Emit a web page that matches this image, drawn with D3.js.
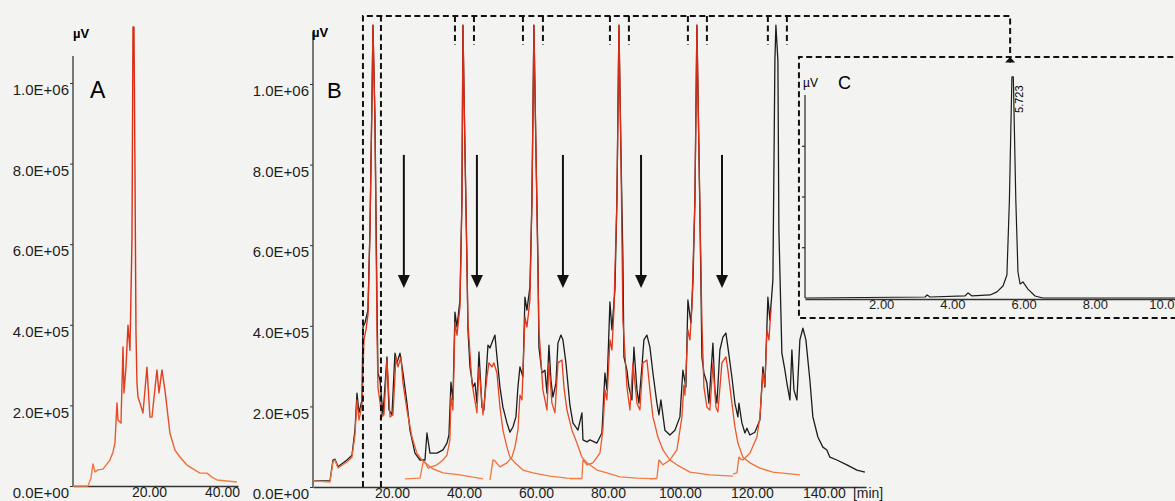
<!DOCTYPE html>
<html>
<head>
<meta charset="utf-8">
<script src="https://cdn.jsdelivr.net/npm/d3@7"></script>
<style>
  body { margin: 0; background: #f3f3f1; }
  svg { display: block; font-family: "Liberation Sans", Arial, sans-serif; }
</style>
</head>
<body>
<div id="canvas"></div>
<script>
// signal values in kµV (x1000 µV), times in minutes
const yTicks = [0, 200, 400, 600, 800, 1000];
const xTicksA = [20, 40];
const xTicksB = [20, 40, 60, 80, 100, 120, 140];
const xTicksC = [2, 4, 6, 8, 10];

// panel A : single injection
const traceA = [[-0.82,0],[3.29,0],[4.11,20],[4.66,55],[5.21,35],[6.03,40],[7.4,42],[9.32,65],[10.14,84],
  [10.68,107],[11.23,206],[11.51,164],[12.33,156],[12.88,345],[13.15,231],[13.7,295],[14.25,399],[14.79,337],
  [15.34,610],[15.62,1139],[15.89,1139],[16.16,791],[16.44,380],[16.71,256],[16.99,221],[17.53,206],[18.36,181],
  [19.45,295],[20.27,171],[20.82,171],[22.19,288],[22.74,231],[23.56,288],[24.38,238],[25.75,131],[27.12,89],
  [28.49,72],[30.41,52],[33.97,32],[35.89,32],[37.26,22],[38.63,15],[44.11,10]];

// panel B : stacked injections, black = whole run
const blackB = [[-1.94,15],[2.78,15],[3.61,67],[4.17,69],[5.0,50],[7.5,67],[8.89,79],[9.72,141],[10.28,233],
  [10.83,184],[11.67,216],[11.94,397],[12.5,407],[13.33,439],[13.89,638],[14.44,960],[14.72,1146],[15.28,911],
  [15.83,464],[16.11,283],[16.67,265],[17.22,208],[17.5,179],[18.61,323],[19.17,191],[20.0,179],[20.83,332],
  [21.39,308],[22.22,332],[23.06,283],[24.17,208],[25.0,141],[26.39,84],[27.78,67],[29.17,67],[29.72,134],
  [30.56,84],[32.5,84],[34.17,92],[35.28,109],[35.83,129],[36.39,260],[36.94,216],[37.5,434],[38.06,397],
  [38.89,464],[39.44,712],[39.72,1146],[40.28,836],[40.83,563],[41.11,390],[41.67,298],[42.5,248],[43.06,258],
  [43.61,208],[44.17,335],[45.0,198],[45.56,191],[46.67,352],[47.22,345],[48.06,365],[48.61,377],[49.17,323],
  [50.0,248],[50.83,198],[51.94,159],[52.78,136],[53.61,149],[54.44,174],[55.0,248],[55.56,298],[56.39,273],
  [56.94,471],[57.5,439],[58.33,496],[58.89,712],[59.44,1146],[60.0,836],[60.56,563],[60.83,347],[61.67,283],
  [62.5,290],[63.06,233],[63.61,352],[64.17,265],[64.72,223],[65.56,258],[66.11,357],[66.94,377],[67.5,365],
  [68.33,308],[69.44,203],[70.28,159],[71.67,141],[72.78,184],[73.06,117],[74.17,112],[75.0,117],[76.94,109],
  [78.33,134],[79.17,283],[79.72,241],[80.56,459],[81.11,390],[81.94,489],[82.5,712],[83.06,1146],[83.61,836],
  [84.17,563],[84.44,323],[85.28,290],[85.83,248],[86.67,216],[87.22,347],[88.06,241],[88.61,208],[89.44,298],
  [90.0,365],[90.83,377],[91.67,347],[92.5,283],[93.61,208],[94.17,179],[94.72,216],[95.83,141],[97.22,129],
  [98.61,141],[100.0,174],[100.83,290],[101.67,248],[102.22,464],[103.06,407],[103.61,506],[104.17,712],
  [104.72,1146],[105.28,836],[105.83,514],[106.11,323],[106.67,283],[107.5,258],[108.06,208],[109.17,357],
  [109.72,241],[110.28,208],[111.11,340],[111.94,372],[112.78,382],[113.33,347],[114.44,273],[115.28,208],
  [116.11,174],[116.39,208],[117.22,159],[118.06,134],[118.61,146],[119.44,129],[120.83,136],[122.22,166],
  [123.06,298],[123.61,248],[124.44,471],[125.0,414],[125.83,514],[126.39,1059],[126.67,1146],[127.22,1059],
  [127.5,638],[128.33,332],[129.17,290],[129.72,258],[130.56,216],[131.11,340],[131.67,241],[132.5,216],
  [133.33,365],[134.17,394],[135.0,365],[136.11,265],[136.94,174],[138.33,124],[139.72,99],[140.83,92],
  [141.67,74],[143.61,67],[146.39,55],[149.17,42],[151.39,37]];

// single injections (red)
const redB1 = [[-1.94,15],[2.78,12],[3.61,62],[4.17,67],[5.0,47],[7.5,62],[8.89,74],[9.72,129],[10.28,216],
  [10.83,166],[11.67,203],[12.22,365],[12.78,390],[13.33,427],[13.89,638],[14.44,960],[14.72,1146],[15.28,911],
  [15.83,390],[16.11,248],[17.22,174],[17.78,179],[18.61,315],[19.44,174],[20.28,179],[21.11,323],[21.67,298],
  [22.5,323],[23.06,258],[24.17,191],[25.56,124],[26.94,84],[28.33,67],[29.17,60],[31.39,45],[34.17,35],
  [38.89,30],[45.28,20]];
const redB2 = [[23.61,20],[27.78,22],[28.61,60],[29.17,62],[30.0,47],[32.5,55],[34.17,67],[35.28,79],[36.11,117],
  [36.39,223],[36.94,191],[37.5,407],[38.06,377],[38.89,447],[39.44,712],[39.72,1146],[40.28,836],[41.11,407],
  [42.22,258],[43.61,184],[44.17,298],[45.28,179],[46.39,273],[46.94,308],[47.78,298],[48.33,308],[49.17,283],
  [50.0,198],[50.83,141],[51.94,99],[52.78,74],[54.17,60],[56.39,42],[59.17,35],[63.89,27],[68.61,22],[72.78,20]];
const redB3 = [[47.22,17],[48.06,67],[48.61,65],[50.0,50],[51.94,60],[53.33,74],[54.17,99],[55.0,141],[55.56,228],
  [56.11,216],[56.94,422],[57.5,397],[58.33,464],[58.89,712],[59.44,1146],[60.0,836],[60.83,390],[61.94,241],
  [63.06,191],[63.61,308],[64.44,208],[65.28,184],[66.11,308],[67.22,315],[67.78,248],[68.61,191],[70.0,141],
  [71.39,109],[72.78,74],[74.17,60],[76.94,42],[79.72,35],[83.33,25],[88.06,22],[93.61,20]];
const redB4 = [[69.44,20],[72.78,22],[73.06,67],[73.61,62],[74.17,55],[75.83,60],[77.78,84],[78.61,141],[79.17,241],
  [79.72,216],[80.56,365],[81.11,340],[81.67,439],[82.5,712],[83.06,1146],[83.61,836],[84.17,414],[85.28,248],
  [86.11,191],[86.94,308],[88.06,208],[88.89,191],[89.72,308],[90.83,315],[91.67,241],[92.5,174],[93.89,124],
  [95.28,92],[97.22,67],[99.17,55],[102.78,37],[108.33,30],[114.72,27]];
const redB5 = [[91.67,20],[93.61,22],[94.17,67],[94.72,62],[95.28,55],[97.22,67],[99.17,92],[100.56,174],
  [101.11,253],[101.39,228],[102.22,390],[102.78,365],[103.33,447],[104.17,712],[104.72,1146],[105.28,836],
  [106.11,407],[106.67,248],[107.5,198],[108.33,191],[109.17,308],[110.0,198],[110.56,186],[111.67,308],
  [112.78,323],[113.33,290],[114.44,208],[115.28,149],[116.11,109],[117.5,74],[119.44,60],[122.22,47],
  [125.83,37],[133.33,30]];
const redB6 = [[114.72,32],[115.83,35],[116.39,74],[116.94,69],[117.5,67],[119.44,84],[121.39,124],[122.22,174],
  [123.06,283],[123.61,253],[124.17,390],[124.72,365],[125.28,439]];

// panel C : collected fraction re-injected
const traceC = [[-0.14,0],[3.23,5],[3.29,15],[3.37,5],[4.35,10],[4.44,25],[4.55,10],[5.06,15],[5.25,30],
  [5.42,59],[5.53,113],[5.6,483],[5.67,1089],[5.71,1089],[5.78,483],[5.84,128],[5.9,69],[5.98,79],[6.12,44],
  [6.32,10],[6.54,0],[10.25,0]];
const peakC = 5.723;

// annotations (panel B times)
const arrowTimes = [23.3, 43.6, 67.5, 89.2, 111.7];
const boxTimes = [11.94, 16.94];
const bracketTimes = [[37.5, 42.78], [56.39, 61.94], [80.56, 85.83], [102.22, 107.5], [124.44, 129.72]];

const W = 1175, H = 501;
const svg = d3.select("#canvas").append("svg").attr("width", W).attr("height", H);
svg.append("rect").attr("width", W).attr("height", H).attr("fill", "#f3f3f1");

const grad = svg.append("defs").append("linearGradient").attr("id", "redgrad")
  .attr("gradientUnits", "userSpaceOnUse").attr("x1", 0).attr("x2", 0).attr("y1", 487).attr("y2", 280);
grad.append("stop").attr("offset", 0).attr("stop-color", "#f3884a");
grad.append("stop").attr("offset", 0.15).attr("stop-color", "#ee6533");
grad.append("stop").attr("offset", 0.45).attr("stop-color", "#e4401f");
grad.append("stop").attr("offset", 1).attr("stop-color", "#da2c15");

const fmt = (v) => {
  const u = v * 1000;
  if (u === 0) return "0.0E+00";
  const e = Math.floor(Math.log10(u));
  return (u / Math.pow(10, e)).toFixed(1) + "E+" + String(e).padStart(2, "0");
};

const xA = d3.scaleLinear().domain([-0.82, 44.4]).range([73, 238]);
const yA = d3.scaleLinear().domain([0, 1000]).range([486, 83]);
const xB = d3.scaleLinear().domain([-1.94, 151.7]).range([313, 866]);
const yB = d3.scaleLinear().domain([0, 1000]).range([487, 84]);
const xC = d3.scaleLinear().domain([-0.14, 10.25]).range([805, 1175]);
const yC = d3.scaleLinear().domain([0, 1000]).range([298, 95]);

const drawYAxis = (x0, y, top) => {
  const g = svg.append("g").attr("transform", "translate(" + x0 + ",0)")
    .call(d3.axisLeft(y).tickValues(yTicks).tickSize(3).tickPadding(1).tickFormat(fmt));
  g.select(".domain").remove();
  g.selectAll("text").attr("dy", "0.78em").style("font-size", "15px").attr("fill", "#1e1e1e");
  g.selectAll("line").attr("stroke", "#333");
  svg.append("line").attr("x1", x0).attr("x2", x0).attr("y1", y(0)).attr("y2", y(top))
    .attr("stroke", "#333").attr("stroke-width", 1.3);
};

const drawXAxis = (x, y0, ticks, size, fmtX) => {
  const g = svg.append("g").attr("transform", "translate(0," + y0 + ")")
    .call(d3.axisBottom(x).tickValues(ticks).tickSize(0).tickSizeOuter(0).tickPadding(1).tickFormat(fmtX));
  g.select(".domain").attr("stroke", "#333").attr("stroke-width", 1.3);
  g.selectAll("text").style("font-size", size + "px").attr("fill", "#1e1e1e");
  return g;
};

// ---------- panel A
drawYAxis(73, yA, 1067);
drawXAxis(xA, yA(0), xTicksA, 14, d3.format(".2f"));
const lineA = d3.line().x((d) => xA(d[0])).y((d) => yA(d[1]));
svg.append("path").datum(traceA).attr("d", lineA).attr("fill", "none")
  .attr("stroke", "url(#redgrad)").attr("stroke-width", 1.4).attr("stroke-linejoin", "round");
svg.append("text").attr("x", 73).attr("y", 38).style("font-size", "13px").style("font-weight", "bold").text("µV");
svg.append("text").attr("x", 90).attr("y", 98).style("font-size", "23px").text("A");

// ---------- panel B
drawYAxis(313, yB, 1130);
drawXAxis(xB, yB(0), xTicksB, 14, d3.format(".2f"));
svg.append("text").attr("x", xB(140) + 29).attr("y", 498).style("font-size", "14px").attr("fill", "#1e1e1e").text("[min]");
svg.append("text").attr("x", 312).attr("y", 37).style("font-size", "13px").style("font-weight", "bold").text("µV");
svg.append("text").attr("x", 327).attr("y", 98).style("font-size", "22px").text("B");

const lineB = d3.line().x((d) => xB(d[0])).y((d) => yB(d[1]));
svg.append("path").datum(blackB).attr("d", lineB).attr("fill", "none")
  .attr("stroke", "#1c1c1c").attr("stroke-width", 1.3).attr("stroke-linejoin", "round");
[redB1, redB2, redB3, redB4, redB5, redB6].forEach((r) => {
  svg.append("path").datum(r).attr("d", lineB).attr("fill", "none")
    .attr("stroke", "url(#redgrad)").attr("stroke-width", 1.3).attr("stroke-linejoin", "round");
});

// arrows
arrowTimes.forEach((t) => {
  const x = xB(t), y1 = yB(824), y2 = yB(494);
  svg.append("line").attr("x1", x).attr("x2", x).attr("y1", y1).attr("y2", y2 - 10)
    .attr("stroke", "#111").attr("stroke-width", 2);
  svg.append("path").attr("d", `M${x - 6},${y2 - 13}L${x + 6},${y2 - 13}L${x},${y2}Z`).attr("fill", "#111");
});

// dashed frames
const dash = (d) => svg.append("path").attr("d", d).attr("fill", "none").attr("stroke", "#111")
  .attr("stroke-width", 2).attr("stroke-dasharray", "6,3.5");
const yTop = yB(1169), yBr = yB(1097);
const xLink = xC(5.62);
dash(`M${xB(boxTimes[0])},${yB(0)}V${yTop}H${xLink}V${yC(1150)}`);
dash(`M${xB(boxTimes[1])},${yB(0)}V${yTop}`);
bracketTimes.forEach((b) => {
  dash(`M${xB(b[0])},${yTop}V${yBr}M${xB(b[1])},${yTop}V${yBr}`);
});
svg.append("path").attr("d", `M${xLink - 5},${yC(1150) - 2}L${xLink + 5},${yC(1150) - 2}L${xLink},${yC(1187)}Z`)
  .attr("fill", "#111");

// ---------- panel C
dash(`M${xC(11)},${yC(1187)}H${xC(-0.31)}V${yC(-99)}H${xC(11)}`);
const gyC = svg.append("g").attr("transform", "translate(" + xC(-0.14) + ",0)")
  .call(d3.axisLeft(yC).tickValues([250, 500, 750]).tickSize(3).tickFormat(""));
gyC.select(".domain").remove();
svg.append("line").attr("x1", xC(-0.14)).attr("x2", xC(-0.14)).attr("y1", yC(0)).attr("y2", yC(1000))
  .attr("stroke", "#333").attr("stroke-width", 1.3);
const gxC = drawXAxis(xC, yC(0) + 1, xTicksC, 13, (d) => (d === 10 ? "10.0" : d3.format(".2f")(d)));
// last label sits at the right edge: keep it inside the page
gxC.selectAll("text").filter((d) => d === 10).attr("text-anchor", "end").attr("x", W - 1 - xC(10));
const lineC = d3.line().x((d) => xC(d[0])).y((d) => yC(d[1]));
svg.append("path").datum(traceC).attr("d", lineC).attr("fill", "none")
  .attr("stroke", "#1c1c1c").attr("stroke-width", 1.2).attr("stroke-linejoin", "round");
svg.append("text").attr("x", 803).attr("y", 87).style("font-size", "12px").text("µV");
svg.append("text").attr("x", 838).attr("y", 89).style("font-size", "18px").text("C");
svg.append("text").attr("transform", `translate(${xC(peakC) + 9},${yC(1089) + 36}) rotate(-90)`)
  .style("font-size", "11px").text(peakC.toFixed(3));
</script>
</body>
</html>
